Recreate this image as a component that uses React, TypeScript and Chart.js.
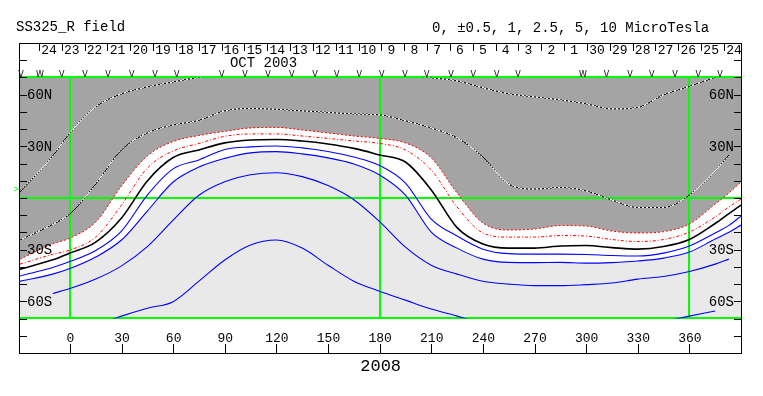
import React, { useEffect, useRef } from 'react';
import { Chart, registerables } from 'chart.js';

Chart.register(...registerables);

// ---------------- data ----------------
const TITLE_LEFT = 'SS325_R field';
const TITLE_RIGHT = '0, \u00b10.5, 1, 2.5, 5, 10 MicroTesla';
const MONTH_LABEL = 'OCT 2003';
const YEAR_LABEL = '2008';

const LONGITUDES = [-29, -10, 0, 15, 30, 45, 60, 75, 90, 105, 120, 135, 150, 165, 180, 195, 210, 225, 240, 255, 270, 285, 300, 315, 330, 345, 360, 375, 383, 390];

// positive contours (dotted black/white)
const POS_OUTER = [3.5, 24.4, 37.8, 52.9, 60.5, 64.5, 67.4, 70.1, 72, 73.5, 74, 74, 74, 74, 73.5, 71.5, 69.8, 68.0, 64.0, 60.5, 58.7, 57.0, 54.7, 51.7, 52.6, 59.9, 64.8, 70.1, 72.5, 74];
const POS_INNER = [-24.4, -15.3, -9.3, 8.1, 27.9, 37.8, 42.4, 45.1, 50.6, 52.0, 51.5, 50.6, 49.7, 48.8, 48.3, 44.8, 40.7, 34.9, 23.8, 8.1, 5.2, 6.1, 4.1, -1.2, -5.5, -5.5, 1.7, 15.7, 25.0, null];
// +0.5 boundary (red dotted, edge of positive region)
const HALF_POS = [-35.5, -26.7, -23.3, -14.0, 7.0, 24.4, 32.8, 36.3, 38.7, 40.7, 41.0, 39.5, 37.8, 36.0, 34.6, 32.0, 23.3, 2.9, -14.5, -18.6, -18.0, -16.0, -16.3, -19.2, -20.3, -19.5, -15.1, -3.5, 2.9, 9.3];
// red dash-dot
const HALF_POS_INNER = [-38.4, -32.7, -30.2, -22.7, -4.1, 17.4, 27.3, 31.7, 35.8, 37.2, 37.2, 36.0, 34.6, 33.1, 31.7, 27.9, 16.3, -5.2, -20.3, -22.7, -22.7, -21.8, -22.1, -24.1, -25.3, -24.1, -19.8, -11.0, -5.2, -0.6];
// neutral line
const NEUTRAL = [-41.3, -35.9, -32.0, -25.6, -11.6, 9.9, 23.5, 27.9, 32.0, 33.7, 34.0, 33.1, 31.4, 28.8, 25.0, 20.9, 4.7, -17.2, -26.7, -29.1, -29.1, -27.9, -27.6, -28.8, -29.7, -28.2, -24.1, -14.8, -9.1, -4.1];
// negative contours (blue)
const NEG_1 = [-45.3, -40.3, -36.9, -30.5, -19.2, 1.7, 16.9, 22.1, 28.2, 29.7, 30.2, 29.1, 27.0, 23.8, 18.9, 8.7, -12.2, -22.1, -29.7, -32.3, -32.6, -32.6, -32.8, -33.4, -33.7, -32.0, -27.9, -20.3, -15.9, -10.5];
const NEG_2 = [-48.3, -44.2, -41.0, -34.3, -24.4, -7.6, 9.3, 18.0, 23.0, 26.2, 26.9, 25.6, 23.3, 19.8, 13.4, 1.7, -19.8, -29.1, -35.5, -37.4, -37.5, -37.4, -37.8, -37.5, -36.6, -34.9, -31.4, -23.8, -19.9, -15.7];
const NEG_3 = [null, -55.4, -52.6, -47.1, -39.4, -28.2, -12.8, 1.6, 9.4, 13.5, 14.7, 12.4, 7.2, -1.0, -13.7, -28.5, -39.0, -44.2, -48.3, -50.0, -50.9, -50.9, -50.3, -49.4, -47.1, -45.6, -42.7, -38.4, -35.5, null];
const NEG_4 = [null, null, null, -74, -68.6, -64.0, -60.2, -48.3, -36.0, -27.3, -24.4, -29.1, -39.0, -48.3, -54.1, -59.3, -64.5, -68.6, -73, null, null, null, null, null, null, -71.6, -68.6, -65.6, null, null];

const X_TICKS = [0, 30, 60, 90, 120, 150, 180, 210, 240, 270, 300, 330, 360];
const Y_TICK_LATS = [-80, -70, -60, -50, -40, -30, -20, -10, 0, 10, 20, 30, 40, 50, 60, 70, 80];
const Y_LABEL_LATS = [60, 30, -30, -60];
const Y_LABELS = ['60N', '30N', '30S', '60S'];
const DAY_LABELS = ['24', '23', '22', '21', '20', '19', '18', '17', '16', '15', '14', '13', '12', '11', '10', '9', '8', '7', '6', '5', '4', '3', '2', '1', '30', '29', '28', '27', '26', '25', '24'];
const DAY_START_LON = -18;
const DAY_STEP_LON = 13.27;
const MARKER_LONS = [-28.4, -4.8, 8.8, 22.1, 35.9, 49.5, 62.1, 88.2, 101.8, 115.1, 128.9, 142.4, 155.0, 168.2, 181.2, 194.7, 207.3, 221.5, 234.4, 248.0, 260.4, 311.9, 325.5, 338.1, 351.6, 365.2, 377.8];
const DOUBLE_MARKER_LONS = [-17.4, 298.2];
const B0_LAT = 4.6;
const GREEN_LONS = [0, 180, 360];

// ---------------- style ----------------
const DATA_LAT = 70;
const CLIP_PX = 34.44;
const DARK_GREY = '#a4a4a4';
const LIGHT_GREY = '#e9e9e9';
const GREEN = '#00ff00';
const RED = '#ff0000';
const BLUE = '#0000ff';
const MONO = '"Liberation Mono", "DejaVu Sans Mono", monospace';

const framePlugin = {
  id: 'synopticFrame',
  beforeDraw(chart: any) {
    const { ctx, chartArea: a, scales } = chart;
    const ys = scales.y;
    ctx.save();
    ctx.fillStyle = '#ffffff';
    ctx.fillRect(0, 0, chart.width, chart.height);
    const t = ys.getPixelForValue(DATA_LAT);
    const b = ys.getPixelForValue(-DATA_LAT);
    ctx.fillStyle = LIGHT_GREY;
    ctx.fillRect(a.left, t, a.right - a.left, b - t);
    ctx.restore();
  },
  beforeDatasetsDraw(chart: any) {
    const { ctx, chartArea: a, scales } = chart;
    const xs = scales.x, ys = scales.y;
    ctx.save();
    ctx.strokeStyle = GREEN;
    ctx.lineWidth = 2;
    const t = Math.round(ys.getPixelForValue(DATA_LAT));
    const b = Math.floor(ys.getPixelForValue(-DATA_LAT));
    const e = Math.round(ys.getPixelForValue(0));
    ctx.beginPath();
    [t, e, b].forEach((py) => { ctx.moveTo(a.left, py); ctx.lineTo(a.right, py); });
    GREEN_LONS.forEach((lon) => {
      const px = Math.round(xs.getPixelForValue(lon));
      ctx.moveTo(px, t); ctx.lineTo(px, b);
    });
    ctx.stroke();
    ctx.restore();
  },
  afterDraw(chart: any) {
    const { ctx, chartArea: a, scales } = chart;
    const xs = scales.x, ys = scales.y;
    ctx.save();
    ctx.strokeStyle = '#000000';
    ctx.fillStyle = '#000000';
    ctx.lineWidth = 1;
    // frame
    ctx.beginPath();
    ctx.moveTo(a.left - 0.5, a.top + 0.5); ctx.lineTo(a.right + 1, a.top + 0.5);
    ctx.moveTo(a.left - 0.5, a.top); ctx.lineTo(a.left - 0.5, a.bottom + 1);
    ctx.moveTo(a.right + 0.5, a.top); ctx.lineTo(a.right + 0.5, a.bottom + 1);
    ctx.moveTo(a.left - 1, a.bottom + 0.5); ctx.lineTo(a.right + 1, a.bottom + 0.5);
    // y ticks
    Y_TICK_LATS.forEach((lat) => {
      const py = Math.round(ys.getPixelForValue(lat)) + 0.5;
      ctx.moveTo(a.left - 0.5, py); ctx.lineTo(a.left + 7, py);
      ctx.moveTo(a.right + 0.5, py); ctx.lineTo(a.right - 7, py);
    });
    // x ticks
    X_TICKS.forEach((v) => {
      const px = Math.round(xs.getPixelForValue(v)) + 0.5;
      ctx.moveTo(px, a.bottom - 9); ctx.lineTo(px, a.bottom);
    });
    // day separators
    DAY_LABELS.forEach((_, k) => {
      const px = Math.round(xs.getPixelForValue(DAY_START_LON + k * DAY_STEP_LON)) + 0.5;
      ctx.moveTo(px, a.top + 1); ctx.lineTo(px, a.top + 8);
    });
    ctx.stroke();

    // y labels
    ctx.font = `14px ${MONO}`;
    ctx.textBaseline = 'middle';
    Y_LABEL_LATS.forEach((lat, i) => {
      const py = ys.getPixelForValue(lat) + 0.5;
      ctx.textAlign = 'left';
      ctx.fillText(Y_LABELS[i], a.left + 7, py);
      ctx.textAlign = 'right';
      ctx.fillText(Y_LABELS[i], a.right - 7, py);
    });

    // x labels
    ctx.textBaseline = 'alphabetic';
    ctx.textAlign = 'center';
    ctx.font = `13px ${MONO}`;
    X_TICKS.forEach((v) => {
      ctx.fillText(String(v), xs.getPixelForValue(v) + 0.5, a.bottom - 11);
    });
    ctx.font = `17px ${MONO}`;
    ctx.fillText(YEAR_LABEL, xs.getPixelForValue(180) + 1, a.bottom + 18);

    // day labels
    ctx.font = `13px ${MONO}`;
    DAY_LABELS.forEach((lab, k) => {
      const px = xs.getPixelForValue(DAY_START_LON + k * DAY_STEP_LON);
      ctx.fillText(lab, px + 10, a.top + 11);
    });
    ctx.font = `14px ${MONO}`;
    ctx.fillText(MONTH_LABEL, xs.getPixelForValue(112.5), a.top + 24);

    // observation markers
    ctx.font = '8px "DejaVu Sans", sans-serif';
    const my = ys.getPixelForValue(DATA_LAT) - 0.5;
    MARKER_LONS.forEach((lon) => ctx.fillText('V', xs.getPixelForValue(lon), my));
    DOUBLE_MARKER_LONS.forEach((lon) => ctx.fillText('W', xs.getPixelForValue(lon), my));

    // titles
    ctx.textAlign = 'left';
    ctx.font = `14px ${MONO}`;
    ctx.fillText(TITLE_LEFT, 16, 31);
    ctx.fillText(TITLE_RIGHT, 432, 32);

    // B0 marker
    ctx.fillStyle = GREEN;
    ctx.font = `9px ${MONO}`;
    ctx.textAlign = 'right';
    ctx.textBaseline = 'middle';
    ctx.fillText('>', a.left - 1, ys.getPixelForValue(B0_LAT));
    ctx.restore();
  },
};

export default function App() {
  const ref = useRef<HTMLCanvasElement>(null);

  useEffect(() => {
    const canvas = ref.current;
    if (!canvas) return;
    const ctx = canvas.getContext('2d')!;
    const pc = document.createElement('canvas');
    pc.width = 4;
    pc.height = 4;
    const p = pc.getContext('2d')!;
    p.fillStyle = '#000000';
    p.fillRect(0, 0, 4, 4);
    p.fillStyle = '#ffffff';
    p.fillRect(0, 0, 2, 2);
    p.fillRect(2, 2, 2, 2);
    const dotted = ctx.createPattern(pc, 'repeat') as any;

    const toPts = (arr: (number | null)[]) => LONGITUDES.map((x, i) => ({ x, y: arr[i] }));
    const clip = { left: 0, right: 0, top: -CLIP_PX, bottom: -CLIP_PX };
    const base: any = {
      pointRadius: 0,
      pointHoverRadius: 0,
      cubicInterpolationMode: 'monotone',
      clip,
      fill: false,
      spanGaps: false,
    };
    const datasets: any[] = [
      { ...base, label: '+2.5', data: toPts(POS_OUTER), borderColor: dotted, borderWidth: 1 },
      { ...base, label: '+1', data: toPts(POS_INNER), borderColor: dotted, borderWidth: 1 },
      { ...base, label: '+0.5', data: toPts(HALF_POS), borderColor: RED, borderWidth: 1, borderDash: [2, 2], fill: { value: DATA_LAT }, backgroundColor: DARK_GREY },
      { ...base, label: '+0.5b', data: toPts(HALF_POS_INNER), borderColor: RED, borderWidth: 1, borderDash: [3, 2, 1, 2] },
      { ...base, label: '0', data: toPts(NEUTRAL), borderColor: '#000000', borderWidth: 1.6 },
      { ...base, label: '-0.5', data: toPts(NEG_1), borderColor: BLUE, borderWidth: 1.1 },
      { ...base, label: '-1', data: toPts(NEG_2), borderColor: BLUE, borderWidth: 1.1, fill: { value: DATA_LAT }, backgroundColor: '#ffffff' },
      { ...base, label: '-2.5', data: toPts(NEG_3), borderColor: BLUE, borderWidth: 1.1 },
      { ...base, label: '-5', data: toPts(NEG_4), borderColor: BLUE, borderWidth: 1.1 },
    ];

    const chart = new Chart(canvas, {
      type: 'line',
      data: { datasets },
      options: {
        animation: false,
        responsive: false,
        devicePixelRatio: 1,
        events: [],
        layout: { padding: { left: 20, right: 22, top: 43, bottom: 43 } },
        scales: {
          x: { type: 'linear', min: -29, max: 390, display: false },
          y: { type: 'linear', min: -90, max: 90, display: false },
        },
        plugins: {
          legend: { display: false },
          tooltip: { enabled: false },
          filler: { drawTime: 'beforeDatasetsDraw' },
        },
      } as any,
      plugins: [framePlugin as any],
    });
    return () => chart.destroy();
  }, []);

  return (
    <div style={{ position: 'absolute', left: 0, top: 0, width: 763, height: 396, background: '#ffffff' }}>
      <canvas ref={ref} width={763} height={396} style={{ display: 'block' }} />
    </div>
  );
}
